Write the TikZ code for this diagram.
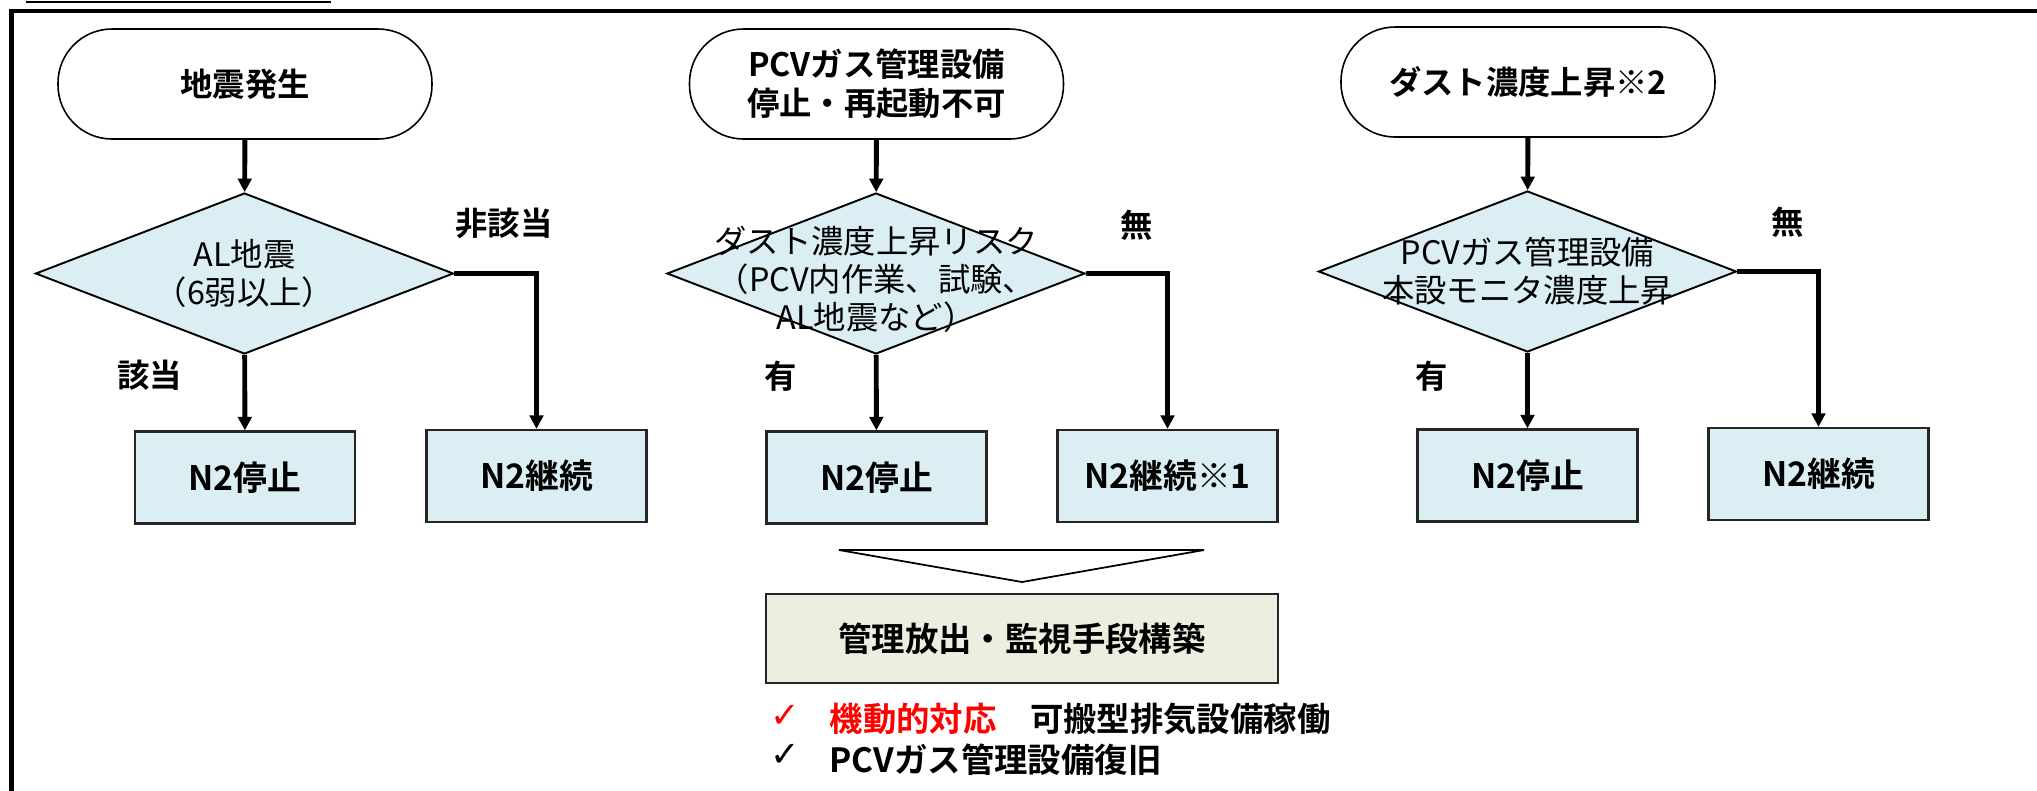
\documentclass[tikz,border=0pt]{standalone}
\usepackage{fontspec}
\usepackage{xcolor}
\setmainfont{Noto Sans CJK JP}[BoldFont={Noto Sans CJK JP Bold}]
\newfontfamily\symfont{DejaVu Sans}
\usetikzlibrary{shapes.geometric, arrows.meta}
\definecolor{flowblue}{HTML}{DAEEF3}
\definecolor{flowbeige}{HTML}{ECEEDF}
\tikzset{>=Latex}

\begin{document}
\begin{tikzpicture}[
every node/.style={font=\fontsize{9.2}{10.8}\selectfont},
startnode/.style={rectangle, rounded corners=5.4mm, draw=black, line width=0.45pt, fill=white, minimum width=37.4mm, minimum height=11mm, align=center, font=\fontsize{9.2}{11}\selectfont\bfseries},
decisionnode/.style={diamond, draw=black, line width=0.55pt, fill=flowblue, inner sep=0pt, minimum width=41.8mm, minimum height=16.1mm},
resultnode/.style={rectangle, draw=black!85, line width=0.65pt, fill=flowblue, minimum width=22mm, minimum height=9.2mm, font=\fontsize{9.6}{11}\selectfont\bfseries},
branchlabel/.style={font=\fontsize{9.2}{11}\selectfont\bfseries},
flowarrow/.style={-{Triangle[length=1.35mm, width=1.35mm]}, line width=1.4pt},
]
\useasboundingbox (0,0) rectangle (20.37,-7.90);
%Frame
\draw[line width=0.6pt] (0.26,-0.02) -- (3.31,-0.02);
\draw[line width=1.2pt] (0.115,-7.95) |- (20.45,-0.107);

%Nodes
\node[startnode](Quake) at (2.45,-0.84){地震発生};
\node[startnode](GasStop) at (8.765,-0.84){PCVガス管理設備\\停止・再起動不可};
\node[startnode](DustRise) at (15.28,-0.82){ダスト濃度上昇※2};

\node[decisionnode, label={[align=center]center:AL地震\\（6弱以上）}](QuakeCheck) at (2.445,-2.735){};
\node[decisionnode, label={[align=center, yshift=-0.6mm]center:ダスト濃度上昇リスク\\（PCV内作業、試験、\\AL地震など）}](RiskCheck) at (8.76,-2.735){};
\node[decisionnode, label={[align=center]center:PCVガス管理設備\\本設モニタ濃度上昇}](MonitorCheck) at (15.275,-2.715){};

\node[resultnode](StopA) at (2.45,-4.775){N2停止};
\node[resultnode](GoA) at (5.365,-4.76){N2継続};
\node[resultnode](StopB) at (8.765,-4.775){N2停止};
\node[resultnode](GoB) at (11.675,-4.76){N2継続※1};
\node[resultnode](StopC) at (15.275,-4.755){N2停止};
\node[resultnode](GoC) at (18.185,-4.74){N2継続};

%Branch labels
\node[branchlabel](NoA) at (5.04,-2.235){非該当};
\node[branchlabel](YesA) at (1.50,-3.75){該当};
\node[branchlabel](NoB) at (11.37,-2.25){無};
\node[branchlabel](YesB) at (7.81,-3.765){有};
\node[branchlabel](NoC) at (17.88,-2.22){無};
\node[branchlabel](YesC) at (14.32,-3.76){有};

%Arrows
\draw[flowarrow] (Quake) -- (QuakeCheck);
\draw[flowarrow] (QuakeCheck) -- (StopA);
\draw[flowarrow] (QuakeCheck.east) -| (GoA.north);
\draw[flowarrow] (GasStop) -- (RiskCheck);
\draw[flowarrow] (RiskCheck) -- (StopB);
\draw[flowarrow] (RiskCheck.east) -| (GoB.north);
\draw[flowarrow] (DustRise) -- (MonitorCheck);
\draw[flowarrow] (MonitorCheck) -- (StopC);
\draw[flowarrow] (MonitorCheck.east) -| (GoC.north);

%Summary
\draw[line width=0.5pt, fill=white] (8.39,-5.50) -- (12.04,-5.50) -- (10.22,-5.82) -- cycle;
\node[rectangle, draw=black!85, line width=0.65pt, fill=flowbeige, minimum width=51.2mm, minimum height=8.9mm, font=\fontsize{9.5}{11}\selectfont\bfseries](Measure) at (10.22,-6.385){管理放出・監視手段構築};

\node[text=red, font=\symfont\fontsize{10}{11}\selectfont](CheckA) at (7.85,-7.16){✓};
\node[anchor=west, inner sep=0pt, font=\fontsize{9.5}{11}\selectfont\bfseries](ActA) at (8.29,-7.19){\textcolor{red}{機動的対応}　可搬型排気設備稼働};
\node[font=\symfont\fontsize{10}{11}\selectfont](CheckB) at (7.85,-7.55){✓};
\node[anchor=west, inner sep=0pt, font=\fontsize{9.5}{11}\selectfont\bfseries](ActB) at (8.29,-7.60){PCVガス管理設備復旧};
\end{tikzpicture}
\end{document}
